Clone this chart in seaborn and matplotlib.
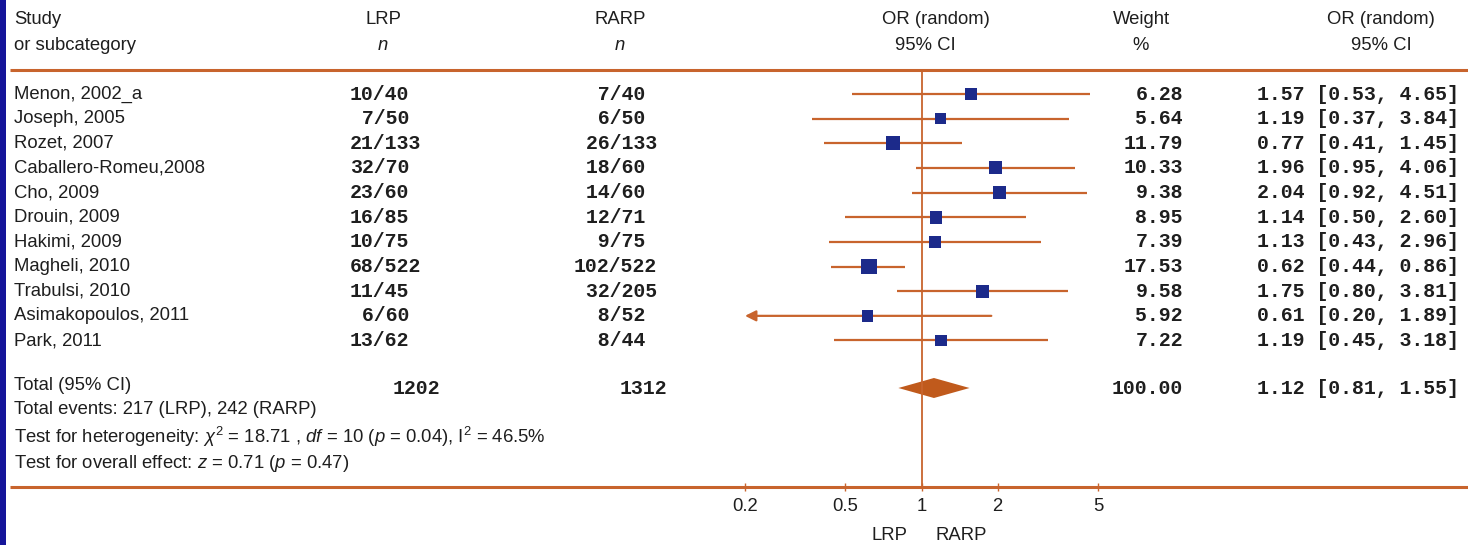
import matplotlib
matplotlib.use("Agg")
import matplotlib.pyplot as plt
from matplotlib.ticker import NullLocator
import seaborn as sns
import pandas as pd

# data
studies = ["Menon, 2002_a", "Joseph, 2005", "Rozet, 2007", "Caballero-Romeu,2008",
           "Cho, 2009", "Drouin, 2009", "Hakimi, 2009", "Magheli, 2010",
           "Trabulsi, 2010", "Asimakopoulos, 2011", "Park, 2011"]
lrp_events = [10, 7, 21, 32, 23, 16, 10, 68, 11, 6, 13]
lrp_total = [40, 50, 133, 70, 60, 85, 75, 522, 45, 60, 62]
rarp_events = [7, 6, 26, 18, 14, 12, 9, 102, 32, 8, 8]
rarp_total = [40, 50, 133, 60, 60, 71, 75, 522, 205, 52, 44]
weights = [6.28, 5.64, 11.79, 10.33, 9.38, 8.95, 7.39, 17.53, 9.58, 5.92, 7.22]
odds = [1.57, 1.19, 0.77, 1.96, 2.04, 1.14, 1.13, 0.62, 1.75, 0.61, 1.19]
ci_low = [0.53, 0.37, 0.41, 0.95, 0.92, 0.50, 0.43, 0.44, 0.80, 0.20, 0.45]
ci_high = [4.65, 3.84, 1.45, 4.06, 4.51, 2.60, 2.96, 0.86, 3.81, 1.89, 3.18]
total_n = [1202, 1312]
total_weight = 100.00
total_or, total_lo, total_hi = 1.12, 0.81, 1.55
xticks = [0.2, 0.5, 1, 2, 5]
xtick_labels = ["0.2", "0.5", "1", "2", "5"]

ORANGE = "#c8642d"
DIAMOND = "#c05a1c"
NAVY = "#1c2a8a"
TXT = "#1e1e1e"

sns.set_style("white")
plt.rcParams["font.family"] = ["Liberation Sans", "DejaVu Sans"]
plt.rcParams["mathtext.fontset"] = "custom"
plt.rcParams["mathtext.rm"] = "Liberation Sans"
plt.rcParams["mathtext.it"] = "Liberation Sans:italic"

W, H = 1468, 545
fig = plt.figure(figsize=(W / 100, H / 100), dpi=100)
fig.patch.set_facecolor("white")

# background axes in pixel units for the table part
bg = fig.add_axes([0, 0, 1, 1])
bg.set_xlim(0, W)
bg.set_ylim(H, 0)
bg.axis("off")
bg.axvspan(0, 6, color="#15159a", lw=0)

row0, step = 94, 24.65
row_y = [row0 + i * step for i in range(len(studies))]
total_y = 388

df = pd.DataFrame({"study": studies, "or": odds, "lo": ci_low, "hi": ci_high,
                   "weight": weights, "y": row_y})

sans = dict(color=TXT, fontsize=13.3, va="center")
mono = dict(color=TXT, fontsize=14.3, va="center", family="Liberation Mono",
            fontweight="bold")

# header
bg.text(14, 20, "Study", **sans)
bg.text(14, 45, "or subcategory", **sans)
bg.text(383, 20, "LRP", ha="center", **sans)
bg.text(383, 45, "n", ha="center", style="italic", **sans)
bg.text(620, 20, "RARP", ha="center", **sans)
bg.text(620, 45, "n", ha="center", style="italic", **sans)
bg.text(936, 20, "OR (random)", ha="center", **sans)
bg.text(925, 45, "95% CI", ha="center", **sans)
bg.text(1141, 20, "Weight", ha="center", **sans)
bg.text(1141, 45, "%", ha="center", **sans)
bg.text(1381, 20, "OR (random)", ha="center", **sans)
bg.text(1381, 45, "95% CI", ha="center", **sans)

bg.plot([10, W], [70, 70], color=ORANGE, lw=2.2, solid_capstyle="butt")
bg.plot([10, W], [487, 487], color=ORANGE, lw=2.2, solid_capstyle="butt")

for i, r in df.iterrows():
    y = r["y"]
    bg.text(14, y, r["study"], **sans)
    bg.text(350, y, f"{lrp_events[i]:>2}/{lrp_total[i]}", ha="left", **mono)
    bg.text(574, y, f"{rarp_events[i]:>3}/{rarp_total[i]}", ha="left", **mono)
    bg.text(1183, y, f"{r['weight']:.2f}", ha="right", **mono)
    bg.text(1257, y, f"{r['or']:.2f} [{r['lo']:.2f}, {r['hi']:.2f}]", ha="left", **mono)

bg.text(14, 385, "Total (95% CI)", **sans)
bg.text(393, total_y, f"{total_n[0]}", ha="left", **mono)
bg.text(620, total_y, f"{total_n[1]}", ha="left", **mono)
bg.text(1183, total_y, f"{total_weight:.2f}", ha="right", **mono)
bg.text(1257, total_y, f"{total_or:.2f} [{total_lo:.2f}, {total_hi:.2f}]", ha="left", **mono)

bg.text(14, 410, "Total events: 217 (LRP), 242 (RARP)", **sans)
bg.text(14, 437, r"Test for heterogeneity: $\chi^2$ = 18.71 , $df$ = 10 ($p$ = 0.04), I$^2$ = 46.5%", **sans)
bg.text(14, 463, r"Test for overall effect: $z$ = 0.71 ($p$ = 0.47)", **sans)

bg.text(889, 535, "LRP", ha="center", **sans)
bg.text(961, 535, "RARP", ha="center", **sans)

# forest panel, log scale
fx = fig.add_axes([745 / W, (H - 487) / H, (1098 - 745) / W, (487 - 70) / H])
fx.patch.set_alpha(0)
fx.set_xscale("log")
fx.set_xlim(0.2, 5)
fx.set_ylim(487, 70)
for s in fx.spines.values():
    s.set_visible(False)

fx.axvline(1, color=ORANGE, lw=1.3)

xmin = fx.get_xlim()[0]
for _, r in df.iterrows():
    if r["lo"] <= xmin:
        fx.annotate("", xy=(xmin, r["y"]), xytext=(r["hi"], r["y"]),
                    arrowprops=dict(arrowstyle="-|>", color=ORANGE, lw=1.6,
                                    mutation_scale=16, shrinkA=0, shrinkB=0))
    else:
        fx.hlines(r["y"], r["lo"], r["hi"], color=ORANGE, lw=1.6)

sns.scatterplot(data=df, x="or", y="y", size="weight", sizes=(65, 125),
                marker="s", color=NAVY, edgecolor=NAVY, linewidth=0,
                legend=False, ax=fx, zorder=3)

fx.fill([total_lo, total_or, total_hi, total_or],
        [total_y, total_y - 10, total_y, total_y + 10], color=DIAMOND, lw=0)

fx.set_xticks(xticks)
fx.set_xticklabels(xtick_labels)
fx.xaxis.set_minor_locator(NullLocator())
fx.set_yticks([])
fx.set_xlabel("")
fx.set_ylabel("")
fx.tick_params(axis="x", direction="inout", length=6, width=1, color=ORANGE,
               pad=5, labelsize=13.3, labelcolor=TXT, bottom=True)

fig.savefig("out.png", dpi=100)
